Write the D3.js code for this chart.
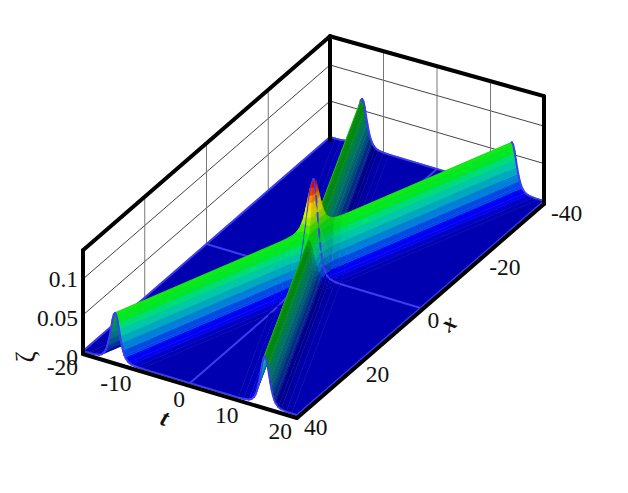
<!DOCTYPE html>
<html>
<head>
<meta charset="utf-8">
<script src="https://cdnjs.cloudflare.com/ajax/libs/d3/7.8.5/d3.min.js"></script>
<style>
html, body { margin: 0; padding: 0; background: #fff; }
text { font-family: "Liberation Serif", serif; fill: #111; }
</style>
</head>
<body>
<div id="chart"></div>
<script>
// tick values on the three axes
const tTicks = [-20, -10, 0, 10, 20];
const xTicks = [40, 20, 0, -20, -40];
const zTicks = [0, 0.05, 0.1];
const zTop = 0.14;

// the two ridges run along t = +/- ridgeSlope * x
const ridgeSlope = 0.35;

// one ridge cross section (distance in t, height)
const profileOffset = [0, 0.25, 0.5, 0.75, 1, 1.25, 1.5, 1.75, 2, 2.5, 3, 4, 5, 40];
const profileHeight = [0.066, 0.063, 0.055, 0.0437, 0.033, 0.0238, 0.0165, 0.0112, 0.0074, 0.0032, 0.0014, 0.0003, 0, 0];

// contour bands, one colour per band
const bandStep = 0.0088;
const bandColors = ['#0000f4', '#0048e4', '#0080d8', '#00a8c0', '#00c8a8', '#00dc78', '#00e828',
  '#10ec18', '#50f000', '#a0f000', '#e0f000', '#ffd800', '#ff9000', '#ff4000', '#ff0000', '#ff0000'];

// lines of the mesh that tecplot drew over the surface
const meshT = [-20, 0, 20];
const meshX = [-40, 0, 40];

const width = 628, height = 493;

// oblique projection of the box, heights grow a little towards the viewer side
const tPx = d3.scaleLinear().domain([-20, 20]).range([0, 214]);
const tPy = d3.scaleLinear().domain([-20, 20]).range([0, 64]);
const xPx = d3.scaleLinear().domain([40, -40]).range([83, 330]);
const xPy = d3.scaleLinear().domain([40, -40]).range([354, 140]);
const zPy = d3.scaleLinear().domain([0, 0.05]).range([0, 36]);
const zGrow = d3.scaleLinear().domain([-20, 20]).range([1, 1.04]);
const lift = 3; // surface floats a bit over the box floor

function boxPt(t, x, z) {
    return [tPx(t) + xPx(x), tPy(t) + xPy(x) - (z == null ? 0 : zPy(z) * zGrow(t) + lift)];
}

const svg = d3.select('#chart').append('svg')
    .attr('width', width)
    .attr('height', height);

// soft edges like the reference
svg.append('filter').attr('id', 'soft')
    .append('feGaussianBlur').attr('stdDeviation', 0.45);

// back walls
const grid = svg.append('g').attr('fill', 'none');
function wallLine(a, b, color, w) {
    grid.append('line')
        .attr('x1', a[0]).attr('y1', a[1])
        .attr('x2', b[0]).attr('y2', b[1])
        .attr('stroke', color).attr('stroke-width', w);
}
zTicks.slice(1).forEach(function(z) {
    wallLine(boxPt(-20, 40, z), boxPt(-20, -40, z), '#444', 1);
    wallLine(boxPt(-20, -40, z), boxPt(20, -40, z), '#444', 1);
});
xTicks.slice(1, -1).forEach(function(x) {
    wallLine(boxPt(-20, x, 0), boxPt(-20, x, zTop), '#777', 1);
});
tTicks.slice(1, -1).forEach(function(t) {
    wallLine(boxPt(t, -40, 0), boxPt(t, -40, zTop), '#777', 1);
});

// split a polygon where f changes sign and keep the f >= 0 side
function clip(poly, f) {
    let out = [];
    poly.forEach(function(a, i) {
        let b = poly[(i + 1) % poly.length];
        let fa = f(a), fb = f(b);
        if (fa >= 0) out.push(a);
        if ((fa > 0 && fb < 0) || (fa < 0 && fb > 0)) {
            let s = fa / (fa - fb);
            out.push({
                t: a.t + s * (b.t - a.t),
                x: a.x + s * (b.x - a.x),
                z: a.z + s * (b.z - a.z)
            });
        }
    });
    return out;
}

// where a mesh line passes through a polygon
function section(poly, key, val) {
    let pts = [];
    poly.forEach(function(a, i) {
        let b = poly[(i + 1) % poly.length];
        let da = a[key] - val, db = b[key] - val;
        if (Math.abs(da) < 1e-9) pts.push(a);
        else if (da * db < 0 && Math.abs(db) > 1e-9) {
            let s = da / (da - db);
            pts.push({
                t: a.t + s * (b.t - a.t),
                x: a.x + s * (b.x - a.x),
                z: a.z + s * (b.z - a.z)
            });
        }
    });
    return pts.length >= 2 ? [pts[0], pts[pts.length - 1]] : null;
}

function shaded(color, s) {
    let c = d3.rgb(color);
    return d3.rgb(c.r * s, c.g * s, c.b * s).formatRgb();
}

// the cross section on both sides of the ridge crest
const offs = profileOffset.slice(1).reverse().map(function(d) { return -d; }).concat(profileOffset);
const hgts = profileHeight.slice(1).reverse().concat(profileHeight);
const maxSlope = d3.max(d3.pairs(profileOffset.map(function(d, i) { return [d, profileHeight[i]]; })),
    function(p) { return (p[0][1] - p[1][1]) / (p[1][0] - p[0][0]); });

// flat shading: each flank of a ridge gets one brightness, flat ground gets the base one
function flank(slope, up, down) {
    let n = Math.max(-1, Math.min(1, 15 * slope / maxSlope));
    return n > 0 ? up * n : down * n;
}

// cells are laid out along the two ridges (u = t - sx, v = t + sx), walking them
// in ascending u and v paints the surface from back to front
const pieces = [];
d3.pairs(d3.range(offs.length)).forEach(function(iu) {
    d3.pairs(d3.range(offs.length)).forEach(function(iv) {
        let su = (hgts[iu[1]] - hgts[iu[0]]) / (offs[iu[1]] - offs[iu[0]]);
        let sv = (hgts[iv[1]] - hgts[iv[0]]) / (offs[iv[1]] - offs[iv[0]]);
        let corner = function(i, j) {
            return {
                t: (offs[i] + offs[j]) / 2,
                x: (offs[j] - offs[i]) / (2 * ridgeSlope),
                z: hgts[i] + hgts[j]
            };
        };
        let poly = [corner(iu[0], iv[0]), corner(iu[1], iv[0]), corner(iu[1], iv[1]), corner(iu[0], iv[1])];
        poly = clip(poly, function(p) { return p.t + 20; });
        poly = clip(poly, function(p) { return 20 - p.t; });
        poly = clip(poly, function(p) { return p.x + 40; });
        poly = clip(poly, function(p) { return 40 - p.x; });
        if (poly.length < 3) return;

        let s = 0.72 + flank(-sv, 0.28, 0.05) + flank(su, 0.13, 0.14);
        s = Math.max(0.4, Math.min(1, s));

        bandColors.forEach(function(color, k) {
            let lo = k * bandStep, hi = (k + 1) * bandStep;
            let band = clip(poly, function(p) { return p.z - lo; });
            band = clip(band, function(p) { return hi - p.z; });
            if (band.length >= 3) pieces.push({ points: band, fill: shaded(color, s) });
        });
        meshT.forEach(function(t) {
            let seg = section(poly, 't', t);
            if (seg) pieces.push({ points: seg, line: true });
        });
        meshX.forEach(function(x) {
            let seg = section(poly, 'x', x);
            if (seg) pieces.push({ points: seg, line: true });
        });
    });
});

const path = d3.line()
    .x(function(p) { return boxPt(p.t, p.x, p.z)[0]; })
    .y(function(p) { return boxPt(p.t, p.x, p.z)[1]; });

svg.append('g')
    .attr('filter', 'url(#soft)')
    .selectAll('path')
    .data(pieces)
    .join('path')
    .attr('d', function(d) { return path(d.points) + (d.line ? '' : 'Z'); })
    .attr('fill', function(d) { return d.line ? 'none' : d.fill; })
    .attr('stroke', function(d) { return d.line ? '#3c3cf0' : d.fill; })
    .attr('stroke-width', function(d) { return d.line ? 2 : 0.6; })
    .attr('stroke-linecap', 'round');

// heavy box edges
const box = [
    [boxPt(-20, 40), boxPt(20, 40)],
    [boxPt(20, 40), boxPt(20, -40)],
    [boxPt(-20, 40), boxPt(-20, 40, zTop)],
    [boxPt(-20, 40, zTop), boxPt(-20, -40, zTop)],
    [boxPt(-20, -40, zTop), boxPt(20, -40, zTop)],
    [boxPt(-20, -40), boxPt(-20, -40, zTop)],
    [boxPt(20, -40), boxPt(20, -40, zTop)]
];
svg.append('g').selectAll('line')
    .data(box)
    .join('line')
    .attr('x1', function(d) { return d[0][0]; })
    .attr('y1', function(d) { return d[0][1]; })
    .attr('x2', function(d) { return d[1][0]; })
    .attr('y2', function(d) { return d[1][1]; })
    .attr('stroke', '#000')
    .attr('stroke-width', 4)
    .attr('stroke-linecap', 'round');

// tick labels
const labels = svg.append('g').attr('font-size', 23.5);
labels.selectAll('.tlab').data(tTicks).join('text')
    .attr('class', 'tlab')
    .attr('text-anchor', 'end')
    .attr('x', function(d) { return boxPt(d, 40)[0] - 5; })
    .attr('y', function(d) { return boxPt(d, 40)[1] + 21; })
    .text(function(d) { return d; });
labels.selectAll('.xlab').data(xTicks).join('text')
    .attr('class', 'xlab')
    .attr('x', function(d) { return boxPt(20, d)[0] + 7; })
    .attr('y', function(d) { return boxPt(20, d)[1] + 17; })
    .text(function(d) { return d; });
labels.selectAll('.zlab').data(zTicks).join('text')
    .attr('class', 'zlab')
    .attr('text-anchor', 'end')
    .attr('x', 78)
    .attr('y', function(d) { return boxPt(-20, 40, d)[1] + 14 - zPy(d) * 0.08; })
    .text(function(d) { return d; });

// axis titles
function title(txt, px, py, rot) {
    svg.append('text')
        .attr('transform', 'translate(' + px + ',' + py + ') rotate(' + rot + ')')
        .attr('text-anchor', 'middle')
        .attr('dominant-baseline', 'middle')
        .attr('font-size', 24)
        .attr('font-style', 'italic')
        .attr('font-weight', 'bold')
        .text(txt);
}
title('t', 164, 420, 20);
title('x', 450, 325, -40);
svg.append('text')
    .attr('transform', 'translate(29,357) rotate(-90)')
    .attr('text-anchor', 'middle')
    .attr('dominant-baseline', 'middle')
    .attr('font-size', 27)
    .text('ζ');
</script>
</body>
</html>
